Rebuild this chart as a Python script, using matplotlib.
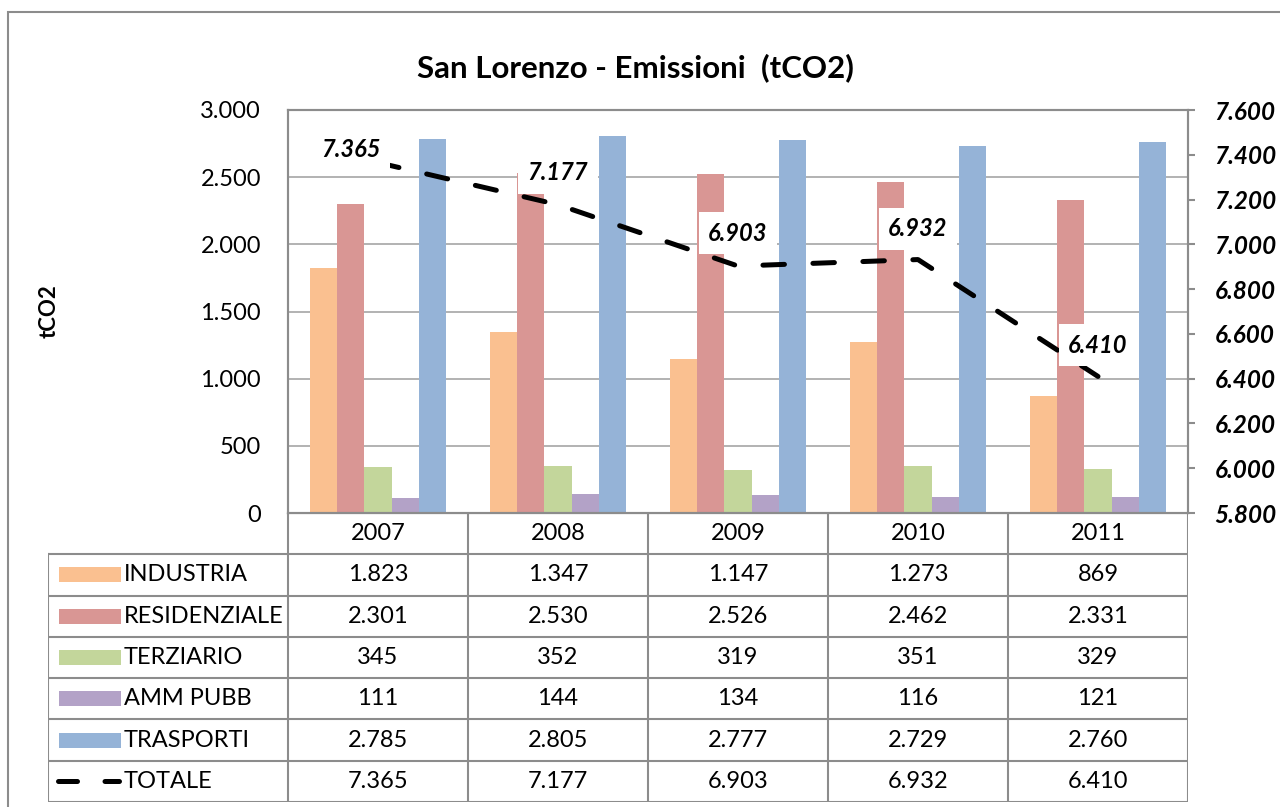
import matplotlib
matplotlib.use("Agg")
import matplotlib.pyplot as plt
from matplotlib.patches import Rectangle
from matplotlib.lines import Line2D
from matplotlib.ticker import FuncFormatter, MultipleLocator

plt.rcParams['font.family'] = ['Lato', 'DejaVu Sans']

years = ['2007', '2008', '2009', '2010', '2011']
series_names = ['INDUSTRIA', 'RESIDENZIALE', 'TERZIARIO', 'AMM PUBB', 'TRASPORTI']
industria = [1823, 1347, 1147, 1273, 869]
residenziale = [2301, 2530, 2526, 2462, 2331]
terziario = [345, 352, 319, 351, 329]
amm_pubb = [111, 144, 134, 116, 121]
trasporti = [2785, 2805, 2777, 2729, 2760]
totale = [7365, 7177, 6903, 6932, 6410]
series = [industria, residenziale, terziario, amm_pubb, trasporti]
colors = ['#FAC090', '#D99694', '#C3D69B', '#B3A2C7', '#95B3D7']
label_offsets = [(-27, 13), (0, 32), (0, 33), (0, 31), (0, 31)]

W, H = 1280, 807
GRAY = '#8c8c8c'
FS = 17

def fmt(v):
    return f"{int(round(v)):,}".replace(",", ".")

fig = plt.figure(figsize=(W / 100, H / 100), dpi=100)

# outer chart border
fig.patches.append(Rectangle((8 / W, 1 - 830 / H), 1300 / W, (830 - 12) / H,
                             transform=fig.transFigure, fill=False,
                             edgecolor=GRAY, lw=1.5))

L, R, T, B = 288, 1188, 110, 513
ax = fig.add_axes([L / W, 1 - B / H, (R - L) / W, (B - T) / H])
ax.set_xlim(-0.5, 4.5)
ax.set_ylim(0, 3000)
ax.yaxis.set_major_locator(MultipleLocator(500))
ax.yaxis.set_major_formatter(FuncFormatter(lambda v, p: fmt(v)))
ax.yaxis.grid(True, color='#a6a6a6', lw=1.2)
ax.set_axisbelow(True)
ax.set_xticks([])
ax.tick_params(axis='y', length=0, pad=19.5, labelsize=FS)
for s in ax.spines.values():
    s.set_color(GRAY)
    s.set_linewidth(1.5)

bw = 0.152
n = len(series)
for i, (vals, c) in enumerate(zip(series, colors)):
    xs = [k + (i - (n - 1) / 2) * bw for k in range(len(years))]
    ax.bar(xs, vals, width=bw, color=c, zorder=2)

ax.set_ylabel('tCO2', fontsize=FS - 1, fontweight='bold', labelpad=0)
ax.yaxis.set_label_coords((60 - L) / (R - L), 0.5)

ax2 = ax.twinx()
ax2.set_ylim(5800, 7600)
ax2.yaxis.set_major_locator(MultipleLocator(200))
ax2.yaxis.set_major_formatter(FuncFormatter(lambda v, p: fmt(v)))
ax2.tick_params(axis='y', length=5, width=1.5, color=GRAY, pad=14, labelsize=FS + 0.5)
for t in ax2.get_yticklabels():
    t.set_fontweight('bold')
    t.set_fontstyle('italic')
for s in ax2.spines.values():
    s.set_color(GRAY)
    s.set_linewidth(1.5)

xs = list(range(len(years)))
ax2.plot(xs, totale, color='black', lw=3.6, dashes=(4.3, 5.7),
         dash_capstyle='round', zorder=3)
for x, v, off in zip(xs, totale, label_offsets):
    ax2.annotate(fmt(v), (x, v), xytext=off, textcoords='offset pixels',
                 ha='center', va='center', fontsize=FS, fontweight='bold',
                 fontstyle='italic', zorder=4,
                 bbox=dict(boxstyle='square,pad=0.4', fc='white', ec='none'))

fig.suptitle('San Lorenzo - Emissioni  (tCO2)', x=635 / W, y=1 - 68 / H,
             va='center', fontsize=22.5, fontweight='bold')

# data table
TL, TB = 48, 802
tax = fig.add_axes([TL / W, 1 - TB / H, (R - TL) / W, (TB - B) / H])
left_x = -0.5 - (L - TL) / 180
tax.set_xlim(left_x, 4.5)
tax.set_ylim(7, 0)
tax.axis('off')
lkw = dict(color=GRAY, lw=1.5, solid_capstyle='projecting')
# horizontal lines
tax.plot([-0.5, 4.5], [0, 0], **lkw)
for r in range(1, 8):
    tax.plot([left_x, 4.5], [r, r], **lkw)
# vertical lines
tax.plot([left_x, left_x], [1, 7], **lkw)
for k in range(6):
    tax.plot([k - 0.5, k - 0.5], [0, 7], **lkw)

for k, y in enumerate(years):
    tax.text(k, 0.5, y, ha='center', va='center', fontsize=FS)

rows = series + [totale]
names = series_names + ['TOTALE']
sw0 = -0.5 - (L - 59) / 180
sw1 = -0.5 - (L - 121) / 180
txt_x = -0.5 - (L - 124) / 180
for r, (name, vals) in enumerate(zip(names, rows)):
    yc = r + 1.5
    for k, v in enumerate(vals):
        tax.text(k, yc, fmt(v), ha='center', va='center', fontsize=FS)
    tax.text(txt_x, yc, name, ha='left', va='center', fontsize=FS)
    if r < len(series):
        tax.add_patch(Rectangle((sw0, yc - 0.18), sw1 - sw0, 0.36,
                                color=colors[r], lw=0))
    else:
        tax.add_line(Line2D([-0.5 - (L - 58) / 180, sw1 - 0.01], [yc, yc],
                            color='black', lw=3.6, dashes=(3.8, 5.5),
                            dash_capstyle='round'))

fig.savefig('out.png', dpi=100)
